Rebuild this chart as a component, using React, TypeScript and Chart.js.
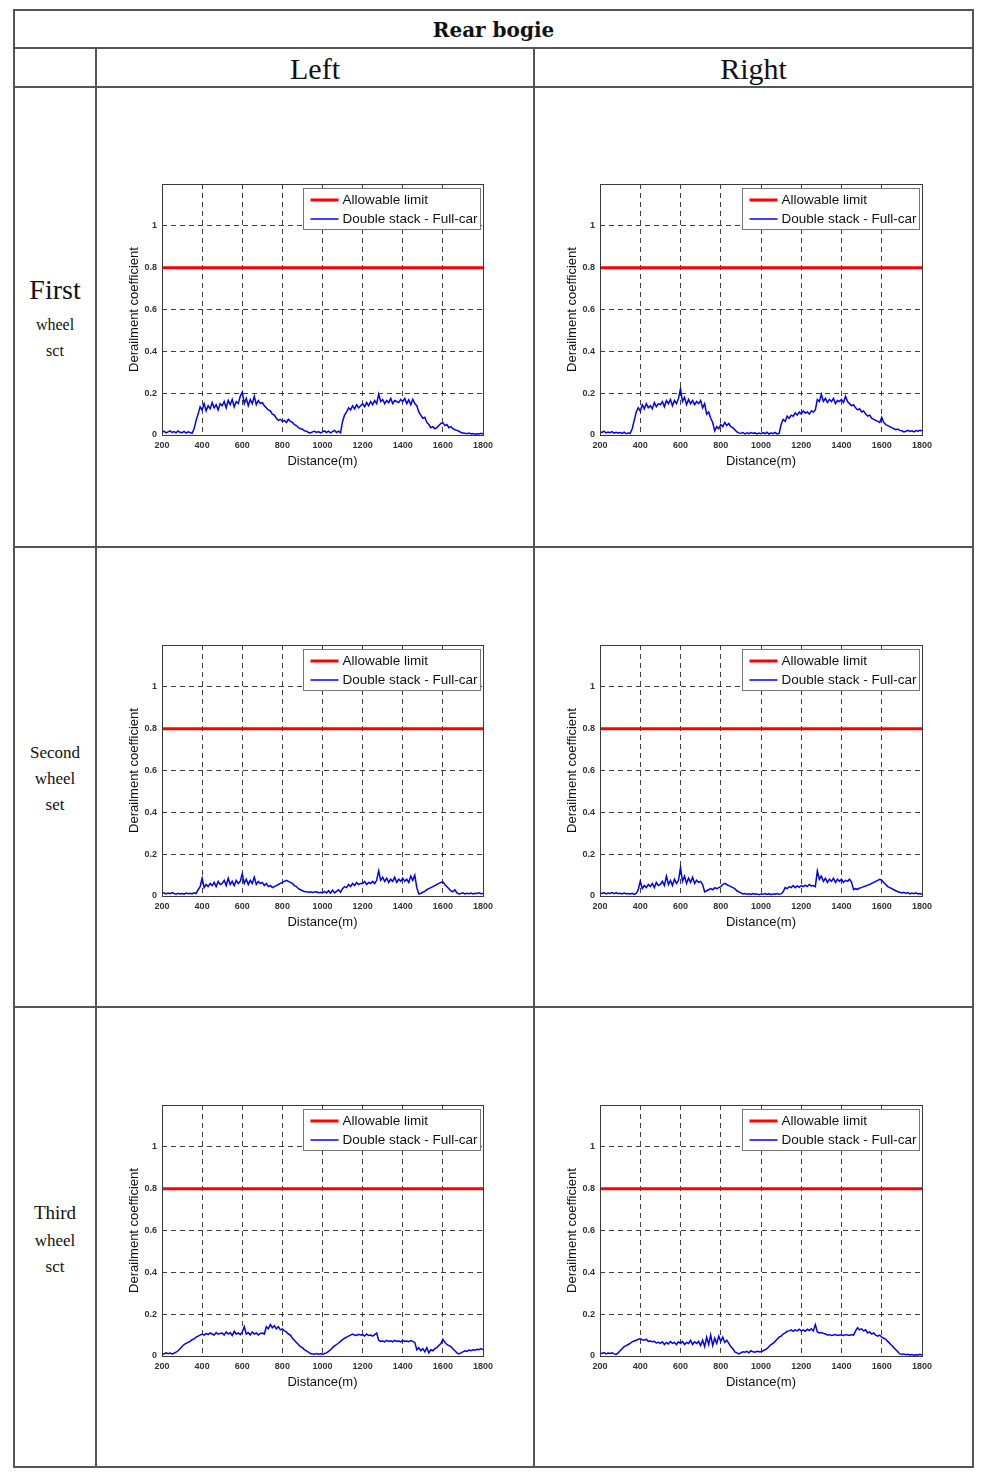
import React, { useEffect, useRef } from "react";
import { Chart, registerables } from "chart.js";

Chart.register(...registerables);

// ---- Data ----
const DIST_START = 200;
const DIST_STEP = 10;
const X_TICKS = [200, 400, 600, 800, 1000, 1200, 1400, 1600, 1800];
const Y_TICKS = [0, 0.2, 0.4, 0.6, 0.8, 1];
const Y_MAX = 1.2;
const ALLOWABLE_LIMIT = 0.8;
const SERIES_LABELS = ["Allowable limit", "Double stack - Full-car"];
const X_TITLE = "Distance(m)";
const Y_TITLE = "Derailment coefficient";

// derailment coefficient sampled every 10 m from 200 m to 1800 m
const FIRST_LEFT = [
  0.012, 0.018, 0.010, 0.015, 0.020, 0.012, 0.016, 0.010, 0.019, 0.013,
  0.011, 0.017, 0.009, 0.015, 0.012, 0.008, 0.030, 0.070, 0.100, 0.135,
  0.120, 0.150, 0.115, 0.140, 0.125, 0.155, 0.130, 0.145, 0.120, 0.150,
  0.140, 0.160, 0.130, 0.165, 0.145, 0.170, 0.135, 0.160, 0.150, 0.185,
  0.205, 0.150, 0.175, 0.140, 0.170, 0.150, 0.185, 0.145, 0.165, 0.150,
  0.155, 0.140, 0.130, 0.120, 0.115, 0.100, 0.095, 0.080, 0.070, 0.075,
  0.065, 0.070, 0.060, 0.075, 0.065, 0.060, 0.050, 0.045, 0.035, 0.030,
  0.028, 0.020, 0.018, 0.012, 0.010, 0.015, 0.018, 0.012, 0.016, 0.010,
  0.015, 0.020, 0.012, 0.018, 0.010, 0.016, 0.022, 0.012, 0.018, 0.010,
  0.065, 0.095, 0.110, 0.130, 0.120, 0.140, 0.125, 0.145, 0.130, 0.140,
  0.150, 0.135, 0.155, 0.140, 0.160, 0.145, 0.165, 0.150, 0.195, 0.160,
  0.170, 0.150, 0.165, 0.155, 0.175, 0.150, 0.165, 0.160, 0.155, 0.170,
  0.160, 0.175, 0.150, 0.168, 0.145, 0.170, 0.150, 0.140, 0.110, 0.095,
  0.080, 0.085, 0.060, 0.050, 0.035, 0.040, 0.030, 0.035, 0.045, 0.055,
  0.058, 0.045, 0.050, 0.035, 0.040, 0.030, 0.025, 0.022, 0.018, 0.012,
  0.010, 0.008, 0.006, 0.009, 0.005, 0.007, 0.004, 0.006, 0.005, 0.008,
  0.004,
];

const FIRST_RIGHT = [
  0.015, 0.012, 0.018, 0.010, 0.014, 0.011, 0.016, 0.009, 0.013, 0.010,
  0.012, 0.008, 0.014, 0.006, 0.010, 0.008, 0.030, 0.070, 0.110, 0.130,
  0.115, 0.145, 0.125, 0.150, 0.130, 0.140, 0.125, 0.155, 0.135, 0.150,
  0.145, 0.160, 0.135, 0.165, 0.150, 0.170, 0.140, 0.165, 0.150, 0.175,
  0.220, 0.160, 0.180, 0.145, 0.170, 0.150, 0.165, 0.145, 0.160, 0.150,
  0.165, 0.130, 0.150, 0.100, 0.110, 0.080, 0.060, 0.020, 0.040, 0.030,
  0.050, 0.040, 0.060, 0.045, 0.055, 0.040, 0.035, 0.025, 0.015, 0.010,
  0.008, 0.012, 0.005, 0.010, 0.006, 0.012, 0.008, 0.010, 0.005, 0.009,
  0.006, 0.011, 0.007, 0.013, 0.004, 0.010, 0.006, 0.012, 0.005, 0.008,
  0.050, 0.075, 0.065, 0.090, 0.080, 0.095, 0.090, 0.105, 0.095, 0.110,
  0.100, 0.115, 0.105, 0.110, 0.100, 0.115, 0.110, 0.120, 0.170, 0.160,
  0.195, 0.160, 0.175, 0.155, 0.170, 0.160, 0.175, 0.150, 0.165, 0.160,
  0.170, 0.155, 0.185, 0.160, 0.150, 0.140, 0.145, 0.130, 0.120, 0.125,
  0.110, 0.115, 0.100, 0.090, 0.095, 0.080, 0.075, 0.070, 0.065, 0.060,
  0.085, 0.060, 0.050, 0.045, 0.040, 0.035, 0.030, 0.025, 0.028, 0.022,
  0.020, 0.015, 0.018, 0.022, 0.017, 0.020, 0.015, 0.021, 0.018, 0.022,
  0.020,
];

const SECOND_LEFT = [
  0.012, 0.015, 0.010, 0.014, 0.011, 0.016, 0.012, 0.009, 0.013, 0.010,
  0.012, 0.009, 0.014, 0.011, 0.013, 0.010, 0.015, 0.012, 0.030, 0.045,
  0.085, 0.040, 0.055, 0.045, 0.060, 0.050, 0.065, 0.045, 0.070, 0.055,
  0.060, 0.075, 0.050, 0.085, 0.055, 0.070, 0.050, 0.075, 0.060, 0.070,
  0.105, 0.060, 0.080, 0.055, 0.075, 0.060, 0.090, 0.055, 0.070, 0.060,
  0.065, 0.050, 0.060, 0.045, 0.050, 0.040, 0.045, 0.050, 0.055, 0.060,
  0.065, 0.070, 0.075, 0.070, 0.065, 0.060, 0.050, 0.045, 0.035, 0.030,
  0.025, 0.022, 0.020, 0.018, 0.020, 0.017, 0.019, 0.020, 0.016, 0.018,
  0.015, 0.022, 0.014, 0.025, 0.013, 0.028, 0.015, 0.022, 0.030, 0.018,
  0.035, 0.045, 0.040, 0.055, 0.045, 0.060, 0.050, 0.065, 0.055, 0.060,
  0.060, 0.070, 0.055, 0.065, 0.060, 0.070, 0.060, 0.075, 0.120, 0.075,
  0.090, 0.070, 0.085, 0.065, 0.080, 0.070, 0.090, 0.065, 0.080, 0.070,
  0.085, 0.070, 0.080, 0.065, 0.095, 0.075, 0.100, 0.040, 0.010, 0.012,
  0.018, 0.022, 0.030, 0.035, 0.040, 0.045, 0.050, 0.055, 0.060, 0.065,
  0.068, 0.055, 0.045, 0.035, 0.025, 0.020, 0.030, 0.015, 0.010, 0.012,
  0.015, 0.010, 0.013, 0.011, 0.014, 0.010, 0.013, 0.012, 0.015, 0.011,
  0.012,
];

const SECOND_RIGHT = [
  0.015, 0.012, 0.016, 0.010, 0.014, 0.012, 0.016, 0.011, 0.015, 0.012,
  0.013, 0.010, 0.014, 0.011, 0.012, 0.010, 0.013, 0.008, 0.012, 0.030,
  0.070, 0.035, 0.050, 0.040, 0.055, 0.045, 0.060, 0.040, 0.065, 0.050,
  0.055, 0.070, 0.050, 0.095, 0.055, 0.075, 0.050, 0.080, 0.060, 0.075,
  0.135, 0.070, 0.095, 0.060, 0.085, 0.065, 0.090, 0.060, 0.075, 0.065,
  0.070, 0.055, 0.020, 0.025, 0.030, 0.035, 0.030, 0.040, 0.035, 0.040,
  0.045, 0.055, 0.060, 0.055, 0.050, 0.045, 0.040, 0.035, 0.025, 0.020,
  0.015, 0.010, 0.012, 0.008, 0.011, 0.007, 0.012, 0.009, 0.010, 0.006,
  0.010, 0.008, 0.012, 0.007, 0.011, 0.006, 0.010, 0.009, 0.012, 0.008,
  0.010, 0.020, 0.040, 0.035, 0.045, 0.040, 0.050, 0.040, 0.048, 0.042,
  0.050, 0.045, 0.052, 0.045, 0.055, 0.048, 0.050, 0.045, 0.120, 0.080,
  0.095, 0.070, 0.085, 0.065, 0.080, 0.070, 0.085, 0.065, 0.080, 0.070,
  0.080, 0.065, 0.075, 0.070, 0.080, 0.065, 0.030, 0.035, 0.032, 0.038,
  0.040, 0.045, 0.048, 0.052, 0.055, 0.060, 0.065, 0.070, 0.075, 0.080,
  0.075, 0.065, 0.055, 0.045, 0.040, 0.035, 0.030, 0.025, 0.020, 0.018,
  0.015, 0.018, 0.012, 0.016, 0.010, 0.014, 0.011, 0.015, 0.010, 0.012,
  0.008,
];

const THIRD_LEFT = [
  0.012, 0.010, 0.015, 0.011, 0.014, 0.010, 0.013, 0.018, 0.025, 0.035,
  0.045, 0.055, 0.060, 0.065, 0.070, 0.078, 0.082, 0.090, 0.095, 0.100,
  0.105, 0.100, 0.108, 0.102, 0.110, 0.105, 0.100, 0.112, 0.104, 0.108,
  0.110, 0.100, 0.115, 0.105, 0.112, 0.098, 0.118, 0.105, 0.110, 0.102,
  0.115, 0.140, 0.105, 0.112, 0.100, 0.115, 0.105, 0.110, 0.100, 0.108,
  0.110, 0.105, 0.140, 0.130, 0.150, 0.135, 0.145, 0.130, 0.140, 0.125,
  0.130, 0.120, 0.115, 0.105, 0.100, 0.085, 0.075, 0.065, 0.055, 0.045,
  0.040, 0.030, 0.025, 0.018, 0.012, 0.010, 0.008, 0.012, 0.009, 0.011,
  0.008, 0.012, 0.015, 0.022, 0.030, 0.040, 0.048, 0.055, 0.062, 0.070,
  0.078, 0.085, 0.090, 0.095, 0.100, 0.105, 0.100, 0.098, 0.104, 0.100,
  0.102, 0.095, 0.105, 0.098, 0.100, 0.095, 0.102, 0.110, 0.075, 0.070,
  0.072, 0.068, 0.075, 0.070, 0.073, 0.068, 0.075, 0.070, 0.072, 0.068,
  0.075, 0.070, 0.072, 0.068, 0.074, 0.070, 0.065, 0.030, 0.040, 0.025,
  0.035, 0.020, 0.040, 0.015, 0.030, 0.025, 0.035, 0.040, 0.050, 0.060,
  0.080, 0.065, 0.055, 0.050, 0.045, 0.035, 0.025, 0.015, 0.010, 0.015,
  0.020, 0.025, 0.022, 0.028, 0.025, 0.030, 0.028, 0.032, 0.030, 0.035,
  0.030,
];

const THIRD_RIGHT = [
  0.015, 0.012, 0.016, 0.010, 0.014, 0.012, 0.015, 0.010, 0.008, 0.015,
  0.025, 0.035, 0.045, 0.050, 0.055, 0.060, 0.068, 0.072, 0.075, 0.080,
  0.082, 0.078, 0.075, 0.080, 0.070, 0.072, 0.068, 0.070, 0.062, 0.065,
  0.060, 0.068, 0.055, 0.065, 0.058, 0.070, 0.060, 0.065, 0.055, 0.068,
  0.060, 0.070, 0.055, 0.065, 0.060, 0.075, 0.055, 0.068, 0.060, 0.070,
  0.050, 0.075, 0.045, 0.090, 0.055, 0.100, 0.050, 0.085, 0.060, 0.095,
  0.070, 0.090, 0.065, 0.075, 0.060, 0.045, 0.035, 0.020, 0.015, 0.010,
  0.015, 0.020, 0.018, 0.022, 0.015, 0.025, 0.020, 0.018, 0.022, 0.020,
  0.020, 0.025, 0.030, 0.035, 0.045, 0.055, 0.060, 0.070, 0.080, 0.090,
  0.095, 0.105, 0.110, 0.118, 0.120, 0.125, 0.118, 0.125, 0.120, 0.128,
  0.120, 0.125, 0.118, 0.128, 0.122, 0.130, 0.120, 0.150, 0.115, 0.110,
  0.112, 0.108, 0.105, 0.100, 0.102, 0.098, 0.100, 0.103, 0.098, 0.100,
  0.100, 0.098, 0.102, 0.100, 0.098, 0.102, 0.100, 0.120, 0.135, 0.125,
  0.130, 0.120, 0.125, 0.110, 0.115, 0.105, 0.110, 0.100, 0.095, 0.100,
  0.090, 0.085, 0.080, 0.070, 0.060, 0.050, 0.040, 0.030, 0.020, 0.010,
  0.008, 0.010, 0.006, 0.008, 0.005, 0.007, 0.004, 0.006, 0.005, 0.008,
  0.005,
];

// ---- Styling ----
const SANS = '"Liberation Sans", Arial, Helvetica, sans-serif';
const SERIF = '"Liberation Serif", "Times New Roman", serif';
const LINE_COLOR = "#555";
const GRID_COLOR = "rgba(30,30,30,0.85)";

const framePlugin = {
  id: "frameAndLegend",
  afterDraw(chart: any) {
    const { ctx, chartArea } = chart;
    ctx.save();
    // axes box
    ctx.strokeStyle = "#3a3a3a";
    ctx.lineWidth = 1;
    ctx.setLineDash([]);
    ctx.strokeRect(
      Math.round(chartArea.left) + 0.5,
      Math.round(chartArea.top) + 0.5,
      Math.round(chartArea.right - chartArea.left),
      Math.round(chartArea.bottom - chartArea.top)
    );
    // legend box inside plot, top-right
    ctx.font = `13.5px ${SANS}`;
    const datasets = chart.data.datasets;
    let tw = 0;
    datasets.forEach((d: any) => {
      tw = Math.max(tw, ctx.measureText(d.label).width);
    });
    const w = Math.round(39 + tw + 3);
    const h = 41;
    const x0 = Math.round(chartArea.right - 3 - w) + 0.5;
    const y0 = Math.round(chartArea.top + 4) + 0.5;
    ctx.fillStyle = "#fff";
    ctx.fillRect(x0, y0, w, h);
    ctx.strokeStyle = "#777";
    ctx.strokeRect(x0, y0, w, h);
    datasets.forEach((d: any, i: number) => {
      const ly = y0 + 11.5 + i * 19;
      ctx.beginPath();
      ctx.strokeStyle = d.borderColor;
      ctx.lineWidth = d.borderWidth;
      ctx.moveTo(x0 + 7, ly);
      ctx.lineTo(x0 + 35, ly);
      ctx.stroke();
      ctx.fillStyle = "#111";
      ctx.textAlign = "left";
      ctx.textBaseline = "middle";
      ctx.fillText(d.label, x0 + 39, ly + 0.5);
    });
    ctx.restore();
  },
};

const CANVAS_W = 380;
const CANVAS_H = 305;

function ChartPanel({ values, left, top, padRight }: { values: number[]; left: number; top: number; padRight: number }) {
  const ref = useRef<HTMLCanvasElement | null>(null);
  useEffect(() => {
    if (!ref.current) return;
    const points = values.map((v, i) => ({ x: DIST_START + i * DIST_STEP, y: v }));
    const limitLine = [
      { x: X_TICKS[0], y: ALLOWABLE_LIMIT },
      { x: X_TICKS[X_TICKS.length - 1], y: ALLOWABLE_LIMIT },
    ];
    const tickFont = { family: SANS, size: 9, weight: "bold" as const };
    const chart = new Chart(ref.current, {
      type: "line",
      data: {
        datasets: [
          { label: SERIES_LABELS[0], data: limitLine, borderColor: "#ff0000", borderWidth: 3, pointRadius: 0 },
          { label: SERIES_LABELS[1], data: points, borderColor: "#0000ff", borderWidth: 1.5, pointRadius: 0 },
        ],
      },
      options: {
        responsive: false,
        animation: false,
        events: [],
        layout: { padding: { top: 14, right: padRight, bottom: 0, left: 0 } },
        plugins: { legend: { display: false }, tooltip: { enabled: false } },
        scales: {
          x: {
            type: "linear",
            min: X_TICKS[0],
            max: X_TICKS[X_TICKS.length - 1],
            afterBuildTicks: (s: any) => {
              s.ticks = X_TICKS.map((v) => ({ value: v }));
            },
            afterFit: (s: any) => {
              s.height = 40;
            },
            ticks: {
              callback: (v: any) => String(v),
              font: tickFont,
              color: "#333",
              padding: 5,
              maxRotation: 0,
              autoSkip: false,
            },
            grid: { color: GRID_COLOR, lineWidth: 1, drawTicks: false },
            border: { display: false, dash: [5, 4] },
            title: {
              display: true,
              text: X_TITLE,
              font: { family: SANS, size: 13 },
              color: "#111",
              padding: { top: 0, bottom: 6 },
            },
          },
          y: {
            type: "linear",
            min: 0,
            max: Y_MAX,
            afterBuildTicks: (s: any) => {
              s.ticks = Y_TICKS.map((v) => ({ value: v }));
            },
            afterFit: (s: any) => {
              s.width = 42;
            },
            ticks: {
              callback: (v: any) => String(Number(Number(v).toFixed(1))),
              font: tickFont,
              color: "#333",
              padding: 5,
              autoSkip: false,
            },
            grid: { color: GRID_COLOR, lineWidth: 1, drawTicks: false },
            border: { display: false, dash: [5, 4] },
            title: {
              display: true,
              text: Y_TITLE,
              font: { family: SANS, size: 13 },
              color: "#111",
              padding: { top: 7, bottom: 0 },
            },
          },
        },
      } as any,
      plugins: [framePlugin],
    });
    return () => chart.destroy();
  }, [values, padRight]);
  return (
    <canvas
      ref={ref}
      width={CANVAS_W}
      height={CANVAS_H}
      style={{ position: "absolute", left, top, width: CANVAS_W, height: CANVAS_H }}
    />
  );
}

function HLine({ y, x1, x2 }: { y: number; x1: number; x2: number }) {
  return <div style={{ position: "absolute", left: x1 - 1, top: y - 1, width: x2 - x1 + 2, height: 2, background: LINE_COLOR }} />;
}
function VLine({ x, y1, y2 }: { x: number; y1: number; y2: number }) {
  return <div style={{ position: "absolute", left: x - 1, top: y1 - 1, width: 2, height: y2 - y1 + 2, background: LINE_COLOR }} />;
}
function Label({ x, y, text, size, bold, family }: { x: number; y: number; text: string; size: number; bold?: boolean; family?: string }) {
  return (
    <div
      style={{
        position: "absolute",
        left: x,
        top: y,
        transform: "translate(-50%, -50%)",
        fontFamily: family || SERIF,
        fontSize: size,
        fontWeight: bold ? "bold" : "normal",
        lineHeight: 1,
        whiteSpace: "nowrap",
        color: "#111",
      }}
    >
      {text}
    </div>
  );
}

const ROW_LINES = [10, 48, 87, 547, 1007, 1467];
const TABLE_LEFT = 14;
const TABLE_RIGHT = 973;
const COL_LABEL = 96;
const COL_MID = 534;
const CHART_TOPS = [170, 631, 1091];

export default function App() {
  return (
    <div style={{ position: "absolute", left: 0, top: 0, width: 991, height: 1483, background: "#fff", overflow: "hidden" }}>
      {ROW_LINES.map((y) => (
        <HLine key={"h" + y} y={y} x1={TABLE_LEFT} x2={TABLE_RIGHT} />
      ))}
      <VLine x={TABLE_LEFT} y1={10} y2={1467} />
      <VLine x={TABLE_RIGHT} y1={10} y2={1467} />
      <VLine x={COL_LABEL} y1={48} y2={1467} />
      <VLine x={COL_MID} y1={48} y2={1467} />

      <Label x={493.5} y={30} text="Rear bogie" size={20} bold family='"DejaVu Serif", serif' />
      <Label x={315} y={69} text="Left" size={30} />
      <Label x={753.5} y={69} text="Right" size={30} />

      <Label x={55} y={290} text="First" size={28} />
      <Label x={55} y={325} text="wheel" size={16} />
      <Label x={55} y={351} text="sct" size={16} />

      <Label x={55} y={752} text="Second" size={17} />
      <Label x={55} y={778} text="wheel" size={17} />
      <Label x={55} y={804} text="set" size={17} />

      <Label x={55} y={1212} text="Third" size={19} />
      <Label x={55} y={1240} text="wheel" size={17} />
      <Label x={55} y={1266} text="sct" size={17} />

      <ChartPanel values={FIRST_LEFT} left={120} top={CHART_TOPS[0]} padRight={17} />
      <ChartPanel values={FIRST_RIGHT} left={558} top={CHART_TOPS[0]} padRight={16} />
      <ChartPanel values={SECOND_LEFT} left={120} top={CHART_TOPS[1]} padRight={17} />
      <ChartPanel values={SECOND_RIGHT} left={558} top={CHART_TOPS[1]} padRight={16} />
      <ChartPanel values={THIRD_LEFT} left={120} top={CHART_TOPS[2]} padRight={17} />
      <ChartPanel values={THIRD_RIGHT} left={558} top={CHART_TOPS[2]} padRight={16} />
    </div>
  );
}
